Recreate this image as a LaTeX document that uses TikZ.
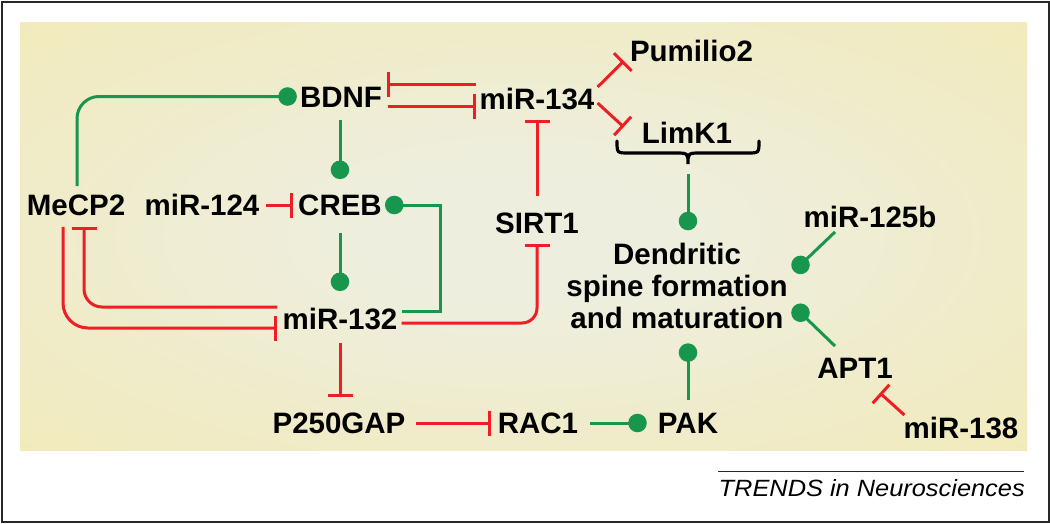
\documentclass[tikz,border=0pt]{standalone}
\usepackage{fontspec}
\setmainfont{Liberation Sans}
\usetikzlibrary{arrows.meta,calc}
\definecolor{inhred}{RGB}{237,30,36}
\definecolor{actgreen}{RGB}{24,150,78}
\definecolor{bgin}{RGB}{238,238,222}
\definecolor{bgout}{RGB}{242,233,174}
\definecolor{framegray}{RGB}{40,40,40}
\pgfdeclareradialshading{bgshade}{\pgfpoint{0bp}{0bp}}{color(0bp)=(bgin); color(8bp)=(bgin); color(46bp)=(bgout); color(75bp)=(bgout)}
\tikzset{
  lbl/.style={font=\fontsize{29.5}{32}\selectfont\bfseries, inner sep=0pt, text height=21.5pt, text depth=0pt},
  dlbl/.style={font=\fontsize{29.5}{32}\selectfont\bfseries, inner sep=0pt, align=center},
  act/.style={draw=actgreen, line width=3pt, -{Circle[length=18.5pt, width=18.5pt, fill=actgreen]}},
  inh/.style={draw=inhred, line width=3pt, -{Bar[width=25pt, line width=3pt]}},
}
\begin{document}
\begin{tikzpicture}[x=1pt,y=-1pt]
\useasboundingbox (0,0) rectangle (1050,523);
\fill[white] (0,0) rectangle (1050,523);
\draw[framegray, line width=2pt] (1.5,1.5) rectangle (1048.5,521.5);
\shade[shading=bgshade] (20,22) rectangle (1027,450);
% footer
\draw[framegray, line width=1pt] (718,471) -- (1024,471);
\node[anchor=base east, inner sep=0pt, font=\fontsize{23.5}{26}\selectfont\itshape, xscale=1.08, transform shape] (trends) at (1025,496) {TRENDS in Neurosciences};
% nodes
\node[lbl] (bdnf) at (341,96.5) {BDNF};
\node[lbl] (mir134) at (537,99) {miR-134};
\node[lbl] (pum) at (691.5,51) {Pumilio2};
\node[lbl] (limk) at (687,132.5) {LimK1};
\node[lbl] (mecp2) at (76,205) {MeCP2};
\node[lbl] (mir124) at (202,205) {miR-124};
\node[lbl] (creb) at (340,205) {CREB};
\node[lbl] (sirt1) at (537,223) {SIRT1};
\node[lbl] (mir132) at (340,319) {miR-132};
\node[lbl] (p250) at (339,423) {P250GAP};
\node[lbl] (rac1) at (538,423) {RAC1};
\node[lbl] (pak) at (688,423) {PAK};
\node[dlbl] (dend) at (677,286.3) {Dendritic\\spine formation\\and maturation};
\node[lbl] (mir125b) at (870,217) {miR-125b};
\node[lbl] (apt1) at (855,368) {APT1};
\node[lbl] (mir138) at (961,428) {miR-138};
% brace under LimK1
\coordinate (bracetip) at (688,164);
\draw[black, line width=3.2pt, line cap=round] (617,141) .. controls (617,153) .. (629,153) -- (675,153) .. controls (688,153) .. (bracetip) .. controls (688,153) .. (701,153) -- (747,153) .. controls (759,153) .. (759,141);
% connectors
\draw[act, rounded corners=22] ($(mecp2.north)+(1,-8)$) |- ($(bdnf.west)+(-3,0)$);
\draw[act] ($(bdnf.south)+(-1,13)$) -- ($(creb.north)+(0,-15)$);
\draw[act] ($(creb.south)+(0,17)$) -- ($(mir132.north)+(0,-17)$);
\draw[act] ($(mir132.east)+(4,-8)$) -- ++(39,0) |- ($(creb.east)+(3,0)$);
\draw[inh] ($(mir124.east)+(6,0)$) -- ($(creb.west)+(-5,0)$);
\draw[inh, rounded corners=25] ($(mecp2.south)+(-13,11)$) |- ($(mir132.west)+(-5,9)$);
\draw[inh, rounded corners=18] ($(mir132.west)+(-5,-12)$) -| ($(mecp2.south)+(8,11)$);
\draw[inh] ($(mir132.south)+(0,13)$) -- ($(p250.north)+(1,-15)$);
\draw[inh] ($(p250.east)+(10,0)$) -- ($(rac1.west)+(-7,0)$);
\draw[act] ($(rac1.east)+(12,0)$) -- ($(pak.west)+(-11,0)$);
\draw[act] ($(pak.north)+(0,-12)$) -- ($(dend.south)+(11,14)$);
\draw[act] ($(bracetip)+(0,10)$) -- ($(dend.north)+(11,-13)$);
\draw[inh] ($(sirt1.north)+(0,-16)$) -- ($(mir134.south)+(0,10)$);
\draw[inh, rounded corners=15] ($(mir132.east)+(4,4)$) -| ($(sirt1.south)+(0,10)$);
\draw[inh] ($(mir134.west)+(-3,-15)$) -- ($(bdnf.east)+(5,-12.5)$);
\draw[inh] ($(bdnf.east)+(6,9.5)$) -- ($(mir134.west)+(-3,7)$);
\draw[inh] ($(mir134.east)+(3,-12)$) -- ($(pum.west)+(-6,10)$);
\draw[inh] ($(mir134.east)+(3,4)$) -- ($(limk.west)+(-18,-5.5)$);
\draw[act] ($(mir125b.south)+(-35,4)$) -- ($(dend.east)+(6,-15)$);
\draw[act] ($(apt1.north)+(-20,-11)$) -- ($(dend.east)+(6,20)$);
\draw[inh] ($(mir138.north west)+(1,-2)$) -- ($(apt1.south east)+(-13,14)$);
\end{tikzpicture}
\end{document}
